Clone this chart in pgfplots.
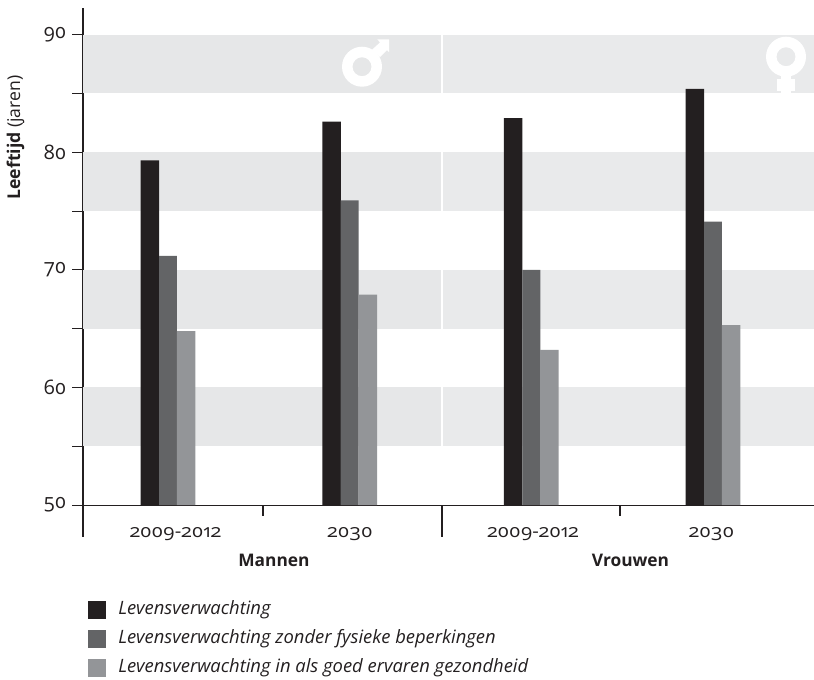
\documentclass[border=0pt]{standalone}
\usepackage{pgfplots}
\pgfplotsset{compat=1.18}
\usepackage{fontspec}
\setmainfont[Numbers=OldStyle]{Open Sans}
\definecolor{cA}{HTML}{231F20}
\definecolor{cB}{HTML}{636466}
\definecolor{cC}{HTML}{939598}
\definecolor{bandL}{HTML}{E6E7E8}
\definecolor{bandR}{HTML}{E9EAEB}
\definecolor{ink}{HTML}{231F20}
\begin{document}
\begin{tikzpicture}
\path[use as bounding box] (0,0) rectangle (610.5pt,-509.25pt);
\begin{axis}[
  at={(62.25pt,-378.8pt)}, anchor=south west,
  scale only axis, width=548.25pt, height=373.1pt,
  xmin=-0.468, xmax=3.556, ymin=50, ymax=92.3,
  axis lines=left, axis line style={ink,line width=0.8pt,-},
  clip=false,
  xtick=\empty,
  ytick={50,60,70,80,90},
  minor ytick={55,65,75,85},
  tick style={ink,line width=0.8pt},
  major tick length=8pt, minor tick length=8pt,
  tick align=outside,
  yticklabel style={font=\fontsize{15}{16}\selectfont,text=ink,xshift=-1pt},
  yticklabel={\pgfmathprintnumber[assume math mode=true]{\tick}},
  ylabel={\textbf{Leeftijd} (jaren)},
  ylabel style={font=\fontsize{13.2}{15}\selectfont,text=ink,at={(axis description cs:-0.0925,0.739)},anchor=center},
]
% background bands
\addplot[fill=bandL,draw=none] coordinates {(-0.468,55) (1.503,55) (1.503,60) (-0.468,60)} -- cycle;
\addplot[fill=bandL,draw=none] coordinates {(-0.468,65) (1.503,65) (1.503,70) (-0.468,70)} -- cycle;
\addplot[fill=bandL,draw=none] coordinates {(-0.468,75) (1.503,75) (1.503,80) (-0.468,80)} -- cycle;
\addplot[fill=bandL,draw=none] coordinates {(-0.468,85) (1.503,85) (1.503,90) (-0.468,90)} -- cycle;
\addplot[fill=bandR,draw=none] coordinates {(1.512,55) (3.556,55) (3.556,60) (1.512,60)} -- cycle;
\addplot[fill=bandR,draw=none] coordinates {(1.512,65) (3.556,65) (3.556,70) (1.512,70)} -- cycle;
\addplot[fill=bandR,draw=none] coordinates {(1.512,75) (3.556,75) (3.556,80) (1.512,80)} -- cycle;
\addplot[fill=bandR,draw=none] coordinates {(1.512,85) (3.556,85) (3.556,90) (1.512,90)} -- cycle;
% bars
\addplot[ybar,bar width=13.9pt,bar shift=-13.6pt,fill=cA,draw=none] coordinates {(0,79.3) (1,82.6) (2,82.9) (3,85.4)};
\addplot[ybar,bar width=13.4pt,bar shift=0pt,fill=cB,draw=none] coordinates {(0,71.2) (1,75.9) (2,70.0) (3,74.1)};
\addplot[ybar,bar width=13.9pt,bar shift=13.6pt,fill=cC,draw=none] coordinates {(0,64.8) (1,67.9) (2,63.2) (3,65.3)};
\end{axis}
\begin{scope}[x=0.75pt,y=-0.75pt]
\begin{scope}[ink,line width=0.8pt]
\draw (83,505) -- (83,537);
\draw (442,505) -- (442,537);
\draw (263,505) -- (263,516);
\draw (620,505) -- (620,516);
\end{scope}
\node[text=ink,xscale=1.13,font=\fontsize{13.5}{14}\selectfont] at (175.5,534) {2009-2012};
\node[text=ink,xscale=1.13,font=\fontsize{13.5}{14}\selectfont] at (350,534) {2030};
\node[text=ink,xscale=1.13,font=\fontsize{13.5}{14}\selectfont] at (533,534) {2009-2012};
\node[text=ink,xscale=1.13,font=\fontsize{13.5}{14}\selectfont] at (711.5,534) {2030};
\node[text=ink,font=\fontsize{13}{14}\selectfont\bfseries] at (274,560) {Mannen};
\node[text=ink,font=\fontsize{13}{14}\selectfont\bfseries] at (630.5,560) {Vrouwen};
% gender symbols
\begin{scope}[white]
\fill[even odd rule] (362,66.7) circle[radius=20] (362,66.7) circle[radius=9.5];
\fill (371.7,50) -- (380,42.5) -- (377.3,39.3) -- (389,39.3) -- (389,52) -- (387,50) -- (380,57) -- cycle;
\fill[even odd rule] (786,56.7) circle[radius=20] (786,56.7) circle[radius=9.5];
\fill (780.7,74) rectangle (791.3,92.9);
\fill (776.7,79.3) rectangle (795,90.7);
\end{scope}
% legend
\foreach \y/\c/\t in {
 610/cA/Levensverwachting,
 639/cB/Levensverwachting zonder fysieke beperkingen,
 668/cC/Levensverwachting in als goed ervaren gezondheid}{
  \fill[\c] (88,\y-9) rectangle (106,\y+9);
  \node[anchor=west,inner sep=0pt,text=ink,font=\fontsize{13.8}{15}\selectfont\itshape] at (118,\y) {\t};
}
\end{scope}
\end{tikzpicture}
\end{document}
